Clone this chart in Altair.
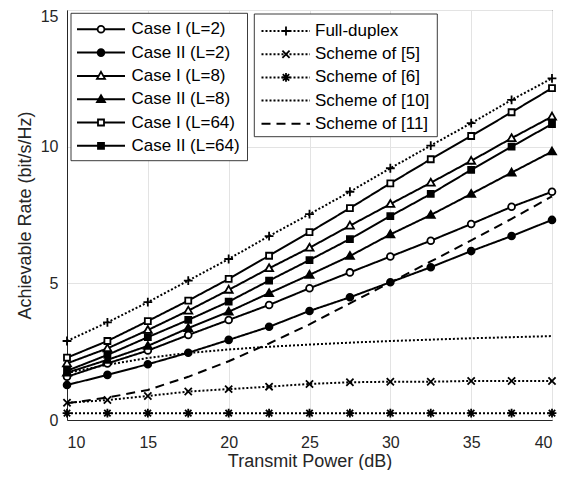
import altair as alt
import pandas as pd

# ---------------- data ----------------
x_db = [10, 12.5, 15, 17.5, 20, 22.5, 25, 27.5, 30, 32.5, 35, 37.5, 40]

case1_L2 = [1.58, 2.07, 2.54, 3.11, 3.66, 4.21, 4.82, 5.40, 5.98, 6.56, 7.17, 7.80, 8.35]
case2_L2 = [1.28, 1.65, 2.04, 2.46, 2.93, 3.41, 3.99, 4.49, 5.04, 5.59, 6.18, 6.73, 7.32]
case1_L8 = [2.07, 2.62, 3.29, 4.00, 4.76, 5.55, 6.30, 7.11, 7.90, 8.68, 9.48, 10.31, 11.10]
case2_L8 = [1.73, 2.20, 2.71, 3.36, 3.96, 4.64, 5.31, 6.00, 6.79, 7.50, 8.27, 9.05, 9.82]
case1_L64 = [2.28, 2.89, 3.62, 4.37, 5.16, 6.01, 6.87, 7.75, 8.66, 9.54, 10.39, 11.26, 12.14]
case2_L64 = [1.80, 2.38, 3.03, 3.66, 4.33, 5.10, 5.85, 6.62, 7.46, 8.27, 9.15, 10.00, 10.83]
full_duplex = [2.89, 3.57, 4.31, 5.10, 5.89, 6.73, 7.53, 8.35, 9.21, 10.04, 10.86, 11.71, 12.50]
scheme5 = [0.63, 0.73, 0.88, 1.04, 1.13, 1.22, 1.32, 1.38, 1.40, 1.40, 1.43, 1.43, 1.43]
scheme6 = [0.25, 0.25, 0.25, 0.25, 0.25, 0.25, 0.25, 0.25, 0.25, 0.25, 0.25, 0.25, 0.25]
scheme10 = [1.72, 2.02, 2.27, 2.45, 2.58, 2.68, 2.76, 2.83, 2.89, 2.94, 2.99, 3.03, 3.07]
scheme11 = [0.61, 0.82, 1.10, 1.58, 2.15, 2.80, 3.50, 4.27, 5.03, 5.80, 6.57, 7.36, 8.18]

series_names = [
    "Case I (L=2)", "Case II (L=2)", "Case I (L=8)", "Case II (L=8)",
    "Case I (L=64)", "Case II (L=64)",
    "Full-duplex", "Scheme of [5]", "Scheme of [6]", "Scheme of [10]", "Scheme of [11]",
]
series_values = [case1_L2, case2_L2, case1_L8, case2_L8, case1_L64, case2_L64,
                 full_duplex, scheme5, scheme6, scheme10, scheme11]

x_ticks = [10, 15, 20, 25, 30, 35, 40]
y_ticks = [0, 5, 10, 15]

# ---------------- styles ----------------
CIRCLE = "M-0.85,0A0.85,0.85 0 1,0 0.85,0A0.85,0.85 0 1,0 -0.85,0Z"
TRI = "M0,-1L1,0.72L-1,0.72Z"
SQUARE = "M-0.75,-0.75H0.75V0.75H-0.75Z"
PLUS = "M-1.1,0H1.1M0,-1.1V1.1"
XMARK = "M-0.9,-0.9L0.9,0.9M-0.9,0.9L0.9,-0.9"
STAR = "M-1.1,0H1.1M0,-1.1V1.1M-0.8,-0.8L0.8,0.8M-0.8,0.8L0.8,-0.8"

marker_series = series_names[:9]
shape_range = [CIRCLE, CIRCLE, TRI, TRI, SQUARE, SQUARE, PLUS, XMARK, STAR]
fill_range = ["white", "black", "white", "black", "white", "black",
              "transparent", "transparent", "transparent"]
dash_range = [[1, 0]] * 6 + [[2, 2]] * 4 + [[9, 6]]

dark = "#262626"
font = "Liberation Sans"

rows = []
for name, vals in zip(series_names, series_values):
    for xv, yv in zip(x_db, vals):
        rows.append({"series": name, "x": xv, "y": yv})
df = pd.DataFrame(rows)
df_marks = df[df["series"].isin(marker_series)]

W, H = 485, 410

x_enc = alt.X("x:Q", scale=alt.Scale(domain=[10, 40], nice=False, zero=False),
              axis=alt.Axis(values=x_ticks, title="Transmit Power (dB)",
                            titleX=W / 2, titleY=46, titleBaseline="alphabetic"))
y_enc = alt.Y("y:Q", scale=alt.Scale(domain=[0, 15], nice=False),
              axis=alt.Axis(values=y_ticks, title="Achievable Rate (bit/s/Hz)",
                            titleX=-37, titleY=H / 2, titleAngle=270,
                            titleAlign="center", titleBaseline="alphabetic",
                            labelOffset={"condition": {"test": "datum.value == 15", "value": 6},
                                         "value": 0}))

dash_enc = alt.StrokeDash("series:N", scale=alt.Scale(domain=series_names, range=dash_range),
                          legend=None)
shape_enc = alt.Shape("series:N", scale=alt.Scale(domain=marker_series, range=shape_range),
                      legend=None)
fill_enc = alt.Fill("series:N", scale=alt.Scale(domain=marker_series, range=fill_range),
                    legend=None)

lines = alt.Chart(df).mark_line(color="black", strokeWidth=2).encode(
    x=x_enc, y=y_enc, strokeDash=dash_enc, detail="series:N")

points = alt.Chart(df_marks).mark_point(
    stroke="black", strokeWidth=1.8, size=64, opacity=1, fillOpacity=1
).encode(x="x:Q", y="y:Q", shape=shape_enc, fill=fill_enc)

# ---------------- manual legends (pixel positions computed here) ----------------
leg_rows = []
for i, name in enumerate(series_names[:6]):
    leg_rows.append({"series": name, "lx0": 10, "lx1": 58, "lxm": 34, "lxt": 64.5,
                     "ly": 19.3 + 23.3 * i})
for i, name in enumerate(series_names[6:]):
    leg_rows.append({"series": name, "lx0": 194.5, "lx1": 243, "lxm": 219, "lxt": 248,
                     "ly": 21 + 23.2 * i})
leg = pd.DataFrame(leg_rows)
leg_marks = leg[leg["series"].isin(marker_series)]

boxes = pd.DataFrame([
    {"bx0": 4, "bx1": 180.5, "by0": 3.3, "by1": 150.7},
    {"bx0": 187.3, "bx1": 370.3, "by0": 4, "by1": 126.7},
])

box_layer = alt.Chart(boxes).mark_rect(fill="white", stroke=dark, strokeWidth=0.9).encode(
    x=alt.X("bx0:Q", scale=None, axis=None), x2="bx1:Q",
    y=alt.Y("by0:Q", scale=None, axis=None), y2="by1:Q")

leg_lines = alt.Chart(leg).mark_rule(color="black", strokeWidth=2).encode(
    x=alt.X("lx0:Q", scale=None, axis=None), x2="lx1:Q",
    y=alt.Y("ly:Q", scale=None, axis=None), strokeDash=dash_enc)

leg_points = alt.Chart(leg_marks).mark_point(
    stroke="black", strokeWidth=1.8, size=64, opacity=1, fillOpacity=1
).encode(x=alt.X("lxm:Q", scale=None, axis=None),
         y=alt.Y("ly:Q", scale=None, axis=None), shape=shape_enc, fill=fill_enc)

leg_text = alt.Chart(leg).mark_text(align="left", baseline="middle", fontSize=17,
                                    font=font, color="black").encode(
    x=alt.X("lxt:Q", scale=None, axis=None),
    y=alt.Y("ly:Q", scale=None, axis=None), text="series:N")

chart = alt.layer(lines, points, box_layer, leg_lines, leg_points, leg_text).properties(
    width=W, height=H,
    padding={"left": 59, "top": 2, "right": 10, "bottom": 50},
    autosize=alt.AutoSizeParams(type="none"),
).configure_view(stroke=dark, strokeWidth=1).configure_axis(
    grid=True, gridColor="#e3e3e3", gridWidth=1,
    domainColor=dark, domainWidth=1, ticks=False,
    labelFont=font, labelFontSize=16, labelColor=dark,
    titleFont=font, titleFontSize=18, titleColor=dark, titleFontWeight="normal",
).configure_axisX(labelPadding=14).configure_axisY(labelPadding=9)

chart.save("out.html", embed_options={"renderer": "svg", "actions": False})
